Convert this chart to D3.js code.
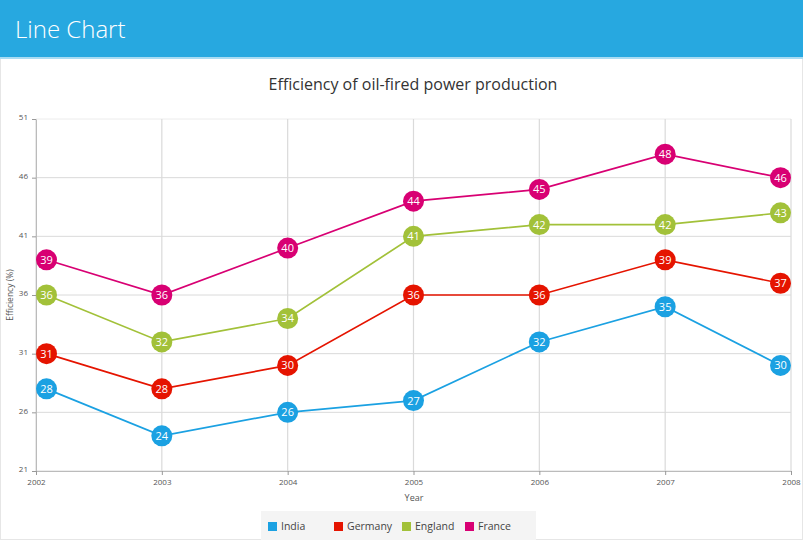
<!DOCTYPE html>
<html><head><meta charset="utf-8">
<script src="https://cdn.jsdelivr.net/npm/d3@7"></script>
<style>
body{margin:0;background:#fff;font-family:"Open Sans","Noto Sans",sans-serif;}
</style></head>
<body><svg id="c" width="803" height="540"></svg>
<script>
const years = ["2002","2003","2004","2005","2006","2007","2008"];
const seriesNames = ["India","Germany","England","France"];
const seriesColors = ["#1ba1e2","#e51400","#a2c139","#d80073"];
const india = [28,24,26,27,32,35,30];
const germany = [31,28,30,36,36,39,37];
const england = [36,32,34,41,42,42,43];
const france = [39,36,40,44,45,48,46];
const yTicks = [21,26,31,36,41,46,51];
const seriesValues = [india, germany, england, france];

const svg = d3.select("#c");
// frame
svg.append("rect").attr("x",0.5).attr("y",0.5).attr("width",802).attr("height",539).attr("fill","#fff").attr("stroke","#e6e6e6");
// header
svg.append("rect").attr("x",0).attr("y",0).attr("width",803).attr("height",57).attr("fill","#27a8e0");
svg.append("rect").attr("x",0).attr("y",57).attr("width",803).attr("height",2).attr("fill","#a9dcf3");
svg.append("text").attr("x",15).attr("y",38).attr("fill","#fff").attr("font-size",24).attr("font-weight",300).text("Line Chart");

// chart title
svg.append("text").attr("x",413).attr("y",90).attr("text-anchor","middle").attr("fill","#333").attr("font-size",16).text("Efficiency of oil-fired power production");

const x = d3.scalePoint().domain(years).range([36,791]);
const y = d3.scaleLinear().domain([21,51]).range([471,119]);
const R = 10.5;
// markers are kept inside the plot area
const mx = yr => Math.max(36+R, Math.min(791-R, x(yr)));

// gridlines
const g = svg.append("g");
g.selectAll("line.h").data(yTicks).join("line").attr("x1",36).attr("x2",791)
  .attr("y1",d=>y(d)).attr("y2",d=>y(d)).attr("stroke",d=>d===51?"#ececec":"#dadada").attr("stroke-width",1);
g.selectAll("line.v").data(years).join("line").attr("y1",119).attr("y2",471)
  .attr("x1",d=>x(d)).attr("x2",d=>x(d)).attr("stroke","#dadada").attr("stroke-width",1.2);

// axes
const yAxis = svg.append("g").attr("transform","translate(36,0)")
  .call(d3.axisLeft(y).tickValues(yTicks).tickSize(4).tickSizeOuter(0));
const xAxis = svg.append("g").attr("transform","translate(0,471)")
  .call(d3.axisBottom(x).tickSize(4).tickSizeOuter(0));
[yAxis,xAxis].forEach(a=>{
  a.select(".domain").attr("stroke","#bbb");
  a.selectAll(".tick line").attr("stroke","#999");
  a.selectAll("text").attr("fill","#555").attr("font-size",8).attr("font-family","Open Sans, sans-serif");
});
xAxis.selectAll(".tick text").attr("dy","0.9em");
yAxis.selectAll(".tick text").attr("x",-8).attr("dy","0.1em");

svg.append("text").attr("x",414).attr("y",501).attr("text-anchor","middle").attr("fill","#555").attr("font-size",9).text("Year");
svg.append("text").attr("transform","translate(13,295) rotate(-90)").attr("text-anchor","middle").attr("fill","#555").attr("font-size",8.5).text("Efficiency (%)");

// lines
const line = d3.line().x((d,i)=>mx(years[i])).y(d=>y(d));
seriesValues.forEach((vals,si)=>{
  svg.append("path").datum(vals).attr("d",line).attr("fill","none").attr("stroke",seriesColors[si]).attr("stroke-width",1.7);
});
seriesValues.forEach((vals,si)=>{
  const mg = svg.append("g");
  mg.selectAll("circle").data(vals).join("circle").attr("cx",(d,i)=>mx(years[i])).attr("cy",d=>y(d)).attr("r",R).attr("fill",seriesColors[si]);
  mg.selectAll("text").data(vals).join("text").attr("x",(d,i)=>mx(years[i])).attr("y",d=>y(d)).attr("dy","0.36em")
    .attr("text-anchor","middle").attr("fill","#fff").attr("font-size",11).text(d=>d);
});

// legend
svg.append("rect").attr("x",261).attr("y",511).attr("width",275).attr("height",29).attr("fill","#f4f4f4");
const legX = [268,334,402,465];
seriesNames.forEach((n,i)=>{
  svg.append("rect").attr("x",legX[i]).attr("y",522).attr("width",9).attr("height",9).attr("fill",seriesColors[i]);
  svg.append("text").attr("x",legX[i]+13).attr("y",530).attr("fill","#444").attr("font-size",10.5).text(n);
});
</script></body></html>
